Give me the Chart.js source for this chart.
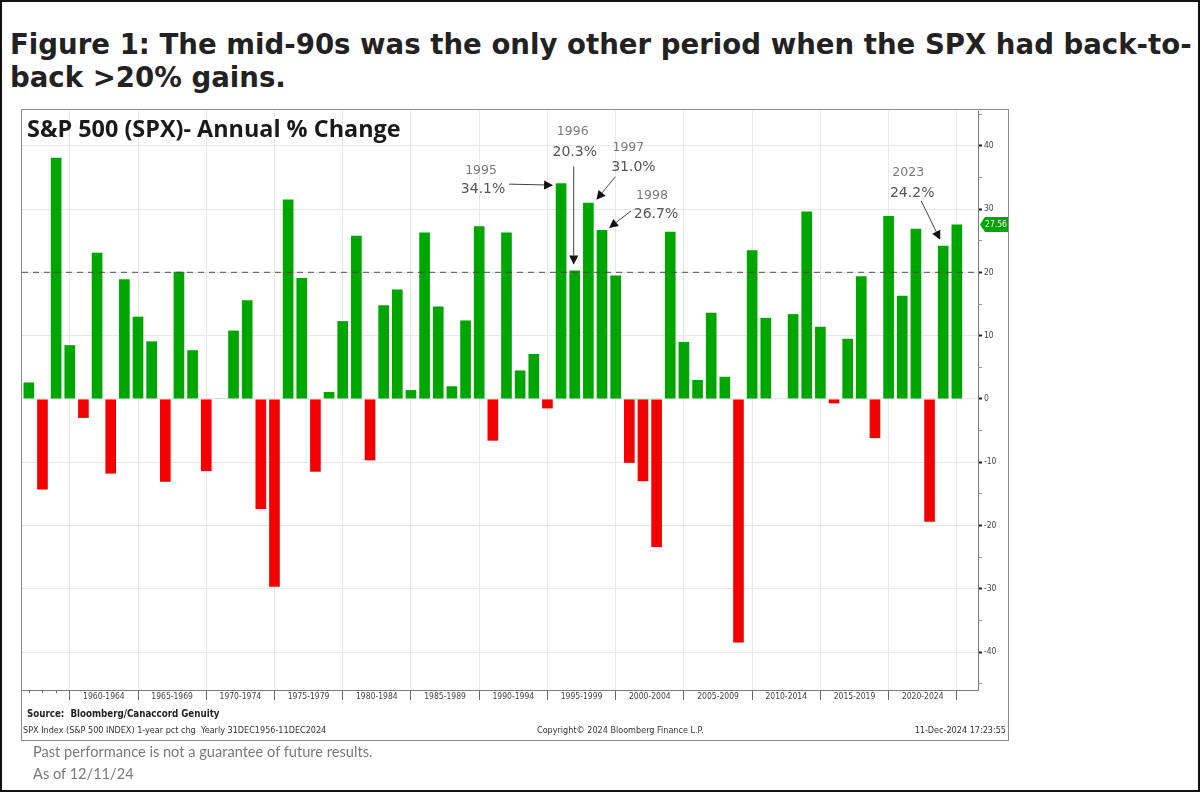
<!DOCTYPE html>
<html>
<head>
<meta charset="utf-8">
<script src="https://cdn.jsdelivr.net/npm/chart.js@4.4.1/dist/chart.umd.min.js"></script>
<style>
  html, body { margin:0; padding:0; background:#fff; }
  body { width:1200px; height:792px; position:relative; overflow:hidden; }
  #frame { position:absolute; left:0; top:0; width:1196px; height:788px; border:2px solid #111; }
  #fig { position:absolute; left:10px; top:28px; font-family:"DejaVu Sans", Verdana, sans-serif; font-weight:bold; font-size:27.6px; line-height:33px; color:#222; white-space:nowrap; }
  #panel { position:absolute; left:21px; top:109px; width:986px; height:630px; border:1.5px solid #8a8a8a; }
  #ptitle { position:absolute; left:27px; top:113px; font-family:"Open Sans", sans-serif; font-weight:bold; font-size:23.4px; line-height:30px; color:#1a1a1a; }
  #src { position:absolute; left:27px; top:708px; font-family:"DejaVu Sans Condensed","DejaVu Sans",sans-serif; font-weight:bold; font-size:9.7px; color:#222; }
  #sub { position:absolute; left:23px; top:725px; font-family:"DejaVu Sans Condensed","DejaVu Sans",sans-serif; font-size:9px; color:#333; }
  #copy { position:absolute; left:537px; top:725px; font-family:"DejaVu Sans Condensed","DejaVu Sans",sans-serif; font-size:9px; color:#333; }
  #stamp { position:absolute; right:194px; top:725px; font-family:"DejaVu Sans Condensed","DejaVu Sans",sans-serif; font-size:9px; color:#333; }
  .note { position:absolute; left:33px; font-family:Lato, sans-serif; font-size:14.6px; color:#7a7a7a; }
  canvas { position:absolute; left:0; top:0; }
</style>
</head>
<body>
<div id="frame"></div>
<div id="fig">Figure 1: The mid-90s was the only other period when the SPX had back-to-<br>back &gt;20% gains.</div>
<div id="panel"></div>
<canvas id="c" width="1200" height="792"></canvas>
<div id="ptitle">S&amp;P 500 (SPX)- Annual % Change</div>
<div id="src">Source:&nbsp; Bloomberg/Canaccord Genuity</div>
<div id="sub">SPX Index (S&amp;P 500 INDEX) 1-year pct chg&nbsp; Yearly 31DEC1956-11DEC2024</div>
<div id="copy">Copyright© 2024 Bloomberg Finance L.P.</div>
<div id="stamp">11-Dec-2024 17:23:55</div>
<div class="note" style="top:743px;">Past performance is not a guarantee of future results.</div>
<div class="note" style="top:765px;">As of 12/11/24</div>
<script>
// ---------------- DATA ----------------
const years = [1956,1957,1958,1959,1960,1961,1962,1963,1964,1965,1966,1967,1968,1969,
  1970,1971,1972,1973,1974,1975,1976,1977,1978,1979,1980,1981,1982,1983,1984,1985,1986,
  1987,1988,1989,1990,1991,1992,1993,1994,1995,1996,1997,1998,1999,2000,2001,2002,2003,
  2004,2005,2006,2007,2008,2009,2010,2011,2012,2013,2014,2015,2016,2017,2018,2019,2020,
  2021,2022,2023,2024];
const pctChange = [2.6,-14.3,38.1,8.5,-3.0,23.1,-11.8,18.9,13.0,9.1,-13.1,20.1,7.7,-11.4,
  0.1,10.8,15.6,-17.4,-29.7,31.5,19.1,-11.5,1.1,12.3,25.8,-9.7,14.8,17.3,1.4,26.3,14.6,
  2.0,12.4,27.3,-6.6,26.3,4.5,7.1,-1.5,34.1,20.3,31.0,26.7,19.5,-10.1,-13.0,-23.4,26.4,
  9.0,3.0,13.6,3.5,-38.5,23.5,12.8,0.0,13.4,29.6,11.4,-0.7,9.5,19.4,-6.2,28.9,16.3,
  26.9,-19.4,24.2,27.56];
const periodLabels = ['1960-1964','1965-1969','1970-1974','1975-1979','1980-1984','1985-1989',
  '1990-1994','1995-1999','2000-2004','2005-2009','2010-2014','2015-2019','2020-2024'];
const periodBoundaries = [1959,1964,1969,1974,1979,1984,1989,1994,1999,2004,2009,2014,2019,2024];
const yTicks = [-45,-40,-35,-30,-25,-20,-15,-10,-5,0,5,10,15,20,25,30,35,40,45];
const thresholdPct = 20;
const lastValueLabel = '27.56';
const callouts = [
  {year:1995, yearText:'1995', pctText:'34.1%'},
  {year:1996, yearText:'1996', pctText:'20.3%'},
  {year:1997, yearText:'1997', pctText:'31.0%'},
  {year:1998, yearText:'1998', pctText:'26.7%'},
  {year:2023, yearText:'2023', pctText:'24.2%'}
];
// --------------------------------------

// styling offsets (pixels, relative to the bar top) for callouts
const calloutStyle = {
  1995: {ty:[-80,-12], tp:[-78,6],  a:[-52,1,-8,2]},
  1996: {ty:[-2,-139], tp:[0,-118], a:[-1,-104,-1,-6]},
  1997: {ty:[40,-55],  tp:[45,-35], a:[27,-26,8,-3]},
  1998: {ty:[50,-34],  tp:[54,-16], a:[29,-19,7,-2]},
  2023: {ty:[-35,-73], tp:[-31,-52],a:[-22,-45,-3,-6]}
};

const GREEN = '#00a600', RED = '#f50000';
const points = years.map((y,i)=>({x:y, y:pctChange[i]}));
const colors = pctChange.map(v => v >= 0 ? GREEN : RED);

const midTicks = periodBoundaries.slice(0,-1).map((b,i)=>({value:b+2.5, label:periodLabels[i]}));

function arrow(ctx, x1,y1,x2,y2){
  ctx.save();
  ctx.strokeStyle='#444'; ctx.fillStyle='#111'; ctx.lineWidth=1;
  const ang=Math.atan2(y2-y1,x2-x1), L=9, W=4.5;
  const bx=x2-L*Math.cos(ang), by=y2-L*Math.sin(ang);
  ctx.beginPath(); ctx.moveTo(x1,y1); ctx.lineTo(bx,by); ctx.stroke();
  ctx.beginPath(); ctx.moveTo(x2,y2);
  ctx.lineTo(bx+W*Math.sin(ang), by-W*Math.cos(ang));
  ctx.lineTo(bx-W*Math.sin(ang), by+W*Math.cos(ang));
  ctx.closePath(); ctx.fill();
  ctx.restore();
}

const overlay = {
  id:'overlay',
  afterDatasetsDraw(chart){
    const {ctx, chartArea:ca, scales:{x, y}} = chart;
    const ty = y.getPixelForValue(thresholdPct);
    ctx.save();
    ctx.strokeStyle='rgba(70,70,70,0.75)'; ctx.lineWidth=1.2; ctx.setLineDash([6,5]);
    ctx.beginPath(); ctx.moveTo(ca.left, ty); ctx.lineTo(ca.right, ty); ctx.stroke();
    ctx.restore();
    callouts.forEach(c=>{
      const i = years.indexOf(c.year);
      const bx = x.getPixelForValue(c.year), by = y.getPixelForValue(pctChange[i]);
      const s = calloutStyle[c.year];
      ctx.save();
      ctx.textAlign='center'; ctx.textBaseline='middle';
      ctx.fillStyle='#7a7a7a'; ctx.font='12.5px "DejaVu Sans", sans-serif';
      ctx.fillText(c.yearText, bx+s.ty[0], by+s.ty[1]);
      ctx.fillStyle='#555'; ctx.font='14px "DejaVu Sans", sans-serif';
      ctx.fillText(c.pctText, bx+s.tp[0], by+s.tp[1]);
      ctx.restore();
      arrow(ctx, bx+s.a[0], by+s.a[1], bx+s.a[2], by+s.a[3]);
    });
  },
  afterDraw(chart){
    const {ctx, chartArea:ca, scales:{x, y}} = chart;
    ctx.save(); ctx.strokeStyle='#666'; ctx.lineWidth=1;
    years.filter(v=>v<periodBoundaries[0]).forEach(v=>{
      const px=Math.round(x.getPixelForValue(v))+0.5;
      ctx.beginPath(); ctx.moveTo(px, ca.bottom); ctx.lineTo(px, ca.bottom+3); ctx.stroke();
    });
    ctx.restore();
    const lv = pctChange[pctChange.length-1];
    const py = y.getPixelForValue(lv);
    const x0 = ca.right+2, w = 28, h = 15;
    ctx.save();
    ctx.fillStyle = GREEN;
    ctx.beginPath();
    ctx.moveTo(x0, py); ctx.lineTo(x0+5, py-h/2); ctx.lineTo(x0+w, py-h/2);
    ctx.lineTo(x0+w, py+h/2); ctx.lineTo(x0+5, py+h/2); ctx.closePath(); ctx.fill();
    ctx.fillStyle='#fff'; ctx.font='8.5px "DejaVu Sans Condensed", sans-serif';
    ctx.textAlign='center'; ctx.textBaseline='middle';
    ctx.fillText(lastValueLabel, x0+w/2+2, py+0.5);
    ctx.restore();
  }
};

new Chart(document.getElementById('c'), {
  type:'bar',
  data:{ datasets:[{ data:points, backgroundColor:colors, borderWidth:0,
    barPercentage:0.78, categoryPercentage:1.0 }]},
  options:{
    responsive:false, animation:false,
    layout:{ padding:{ left:22, top:111, right:192, bottom:86 } },
    plugins:{ legend:{display:false}, tooltip:{enabled:false}, title:{display:false} },
    scales:{
      x:{
        type:'linear', min:1955.5, max:2025.55, offset:false,
        afterBuildTicks(scale){
          const t=[]; periodBoundaries.forEach(b=>t.push({value:b}));
          midTicks.forEach(m=>t.push({value:m.value}));
          t.sort((a,b)=>a.value-b.value); scale.ticks=t;
        },
        afterFit(scale){ scale.height = 16; },
        ticks:{
          autoSkip:false, maxRotation:0, minRotation:0, padding:-8,
          color:'#444', font:{family:'"DejaVu Sans Condensed", "DejaVu Sans", sans-serif', size:8.5},
          callback(v){ const m=midTicks.find(t=>Math.abs(t.value-v)<0.01); return m?m.label:''; }
        },
        grid:{
          offset:false, drawOnChartArea:true, drawTicks:true, tickLength:10,
          color(ctx){ return Number.isInteger(ctx.tick && ctx.tick.value) ? '#e7e7e7' : 'rgba(0,0,0,0)'; },
          tickColor(ctx){ return Number.isInteger(ctx.tick && ctx.tick.value) ? '#666' : 'rgba(0,0,0,0)'; }
        },
        border:{ display:true, color:'#7a7a7a', width:1 }
      },
      y:{
        position:'right', min:-46, max:45.5,
        afterBuildTicks(scale){ scale.ticks = yTicks.map(v=>({value:v})); },
        afterFit(scale){ scale.width = 30; },
        ticks:{
          padding:2, color:'#444',
          font:{family:'"DejaVu Sans Condensed", "DejaVu Sans", sans-serif', size:8.5},
          callback(v){ return v%10===0 ? String(v) : ''; }
        },
        grid:{
          tickLength:4,
          color(ctx){ return (ctx.tick && ctx.tick.value%10===0) ? '#e7e7e7' : 'rgba(0,0,0,0)'; },
          tickColor(ctx){ return (ctx.tick && ctx.tick.value%10===0) ? '#222' : '#999'; },
          tickWidth(ctx){ return (ctx.tick && ctx.tick.value%10===0) ? 2 : 1; }
        },
        border:{ display:true, color:'#7a7a7a', width:1 }
      }
    }
  },
  plugins:[overlay]
});
</script>
</body>
</html>
